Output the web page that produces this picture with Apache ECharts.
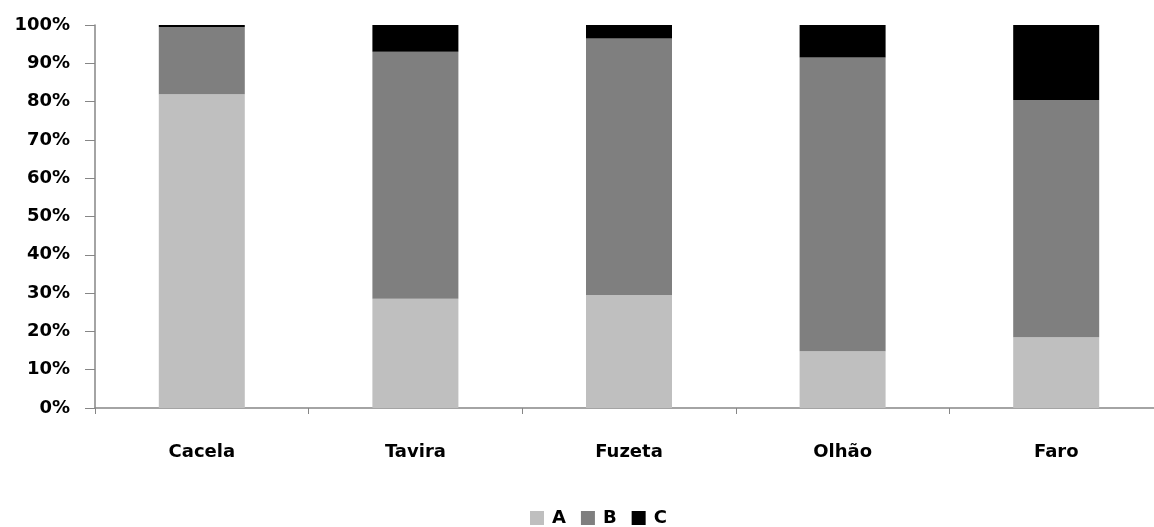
<!DOCTYPE html>
<html>
<head>
<meta charset="utf-8">
<script src="https://cdn.jsdelivr.net/npm/echarts@6/dist/echarts.min.js"></script>
<style>
  html, body { margin: 0; padding: 0; background: #ffffff; }
  #chart { width: 1154px; height: 527px; }
</style>
</head>
<body>
<div id="chart"></div>
<script>
// Sites along the coast
const sites = ['Cacela', 'Tavira', 'Fuzeta', 'Olhão', 'Faro'];
// Share of each class per site (percent)
const shareA = [81.9, 28.5, 29.5, 14.8, 18.5];
const shareB = [17.6, 64.5, 67.0, 76.7, 61.9];
const shareC = [0.5, 7.0, 3.5, 8.5, 19.6];
const seriesNames = ['A', 'B', 'C'];
const seriesColors = ['#bfbfbf', '#7f7f7f', '#000000'];

const font = 'DejaVu Sans';
const axisColor = '#868686';

const chart = echarts.init(document.getElementById('chart'), null, { renderer: 'canvas' });

const makeSeries = (name, data, color) => ({
  name: name,
  type: 'bar',
  stack: 'total',
  data: data,
  barWidth: 86,
  itemStyle: { color: color },
  emphasis: { disabled: true }
});

chart.setOption({
  backgroundColor: '#ffffff',
  animation: false,
  grid: {
    left: 95,
    right: -9,
    top: 25,
    bottom: 119,
    containLabel: false,
    outerBoundsMode: 'none'
  },
  legend: {
    data: seriesNames,
    left: 525,
    top: 504,
    icon: 'rect',
    itemWidth: 14,
    itemHeight: 14,
    itemGap: 15,
    textStyle: {
      fontFamily: font,
      fontWeight: 'bold',
      fontSize: 18,
      color: '#000000',
      padding: [0, 0, 0, 3]
    }
  },
  xAxis: {
    type: 'category',
    data: sites,
    boundaryGap: true,
    axisLine: { show: true, lineStyle: { color: axisColor, width: 1.5 } },
    axisTick: { show: true, length: 6, alignWithLabel: false, lineStyle: { color: axisColor } },
    axisLabel: {
      margin: 35,
      fontFamily: font,
      fontWeight: 'bold',
      fontSize: 18,
      color: '#000000'
    },
    splitLine: { show: false }
  },
  yAxis: {
    type: 'value',
    min: 0,
    max: 100,
    interval: 10,
    axisLine: { show: true, lineStyle: { color: axisColor, width: 1.5 } },
    axisTick: { show: true, length: 10, lineStyle: { color: axisColor } },
    axisLabel: {
      formatter: '{value}%',
      margin: 25,
      fontFamily: font,
      fontWeight: 'bold',
      fontSize: 18,
      color: '#000000'
    },
    splitLine: { show: false }
  },
  series: [
    makeSeries(seriesNames[0], shareA, seriesColors[0]),
    makeSeries(seriesNames[1], shareB, seriesColors[1]),
    makeSeries(seriesNames[2], shareC, seriesColors[2])
  ]
});
</script>
</body>
</html>
